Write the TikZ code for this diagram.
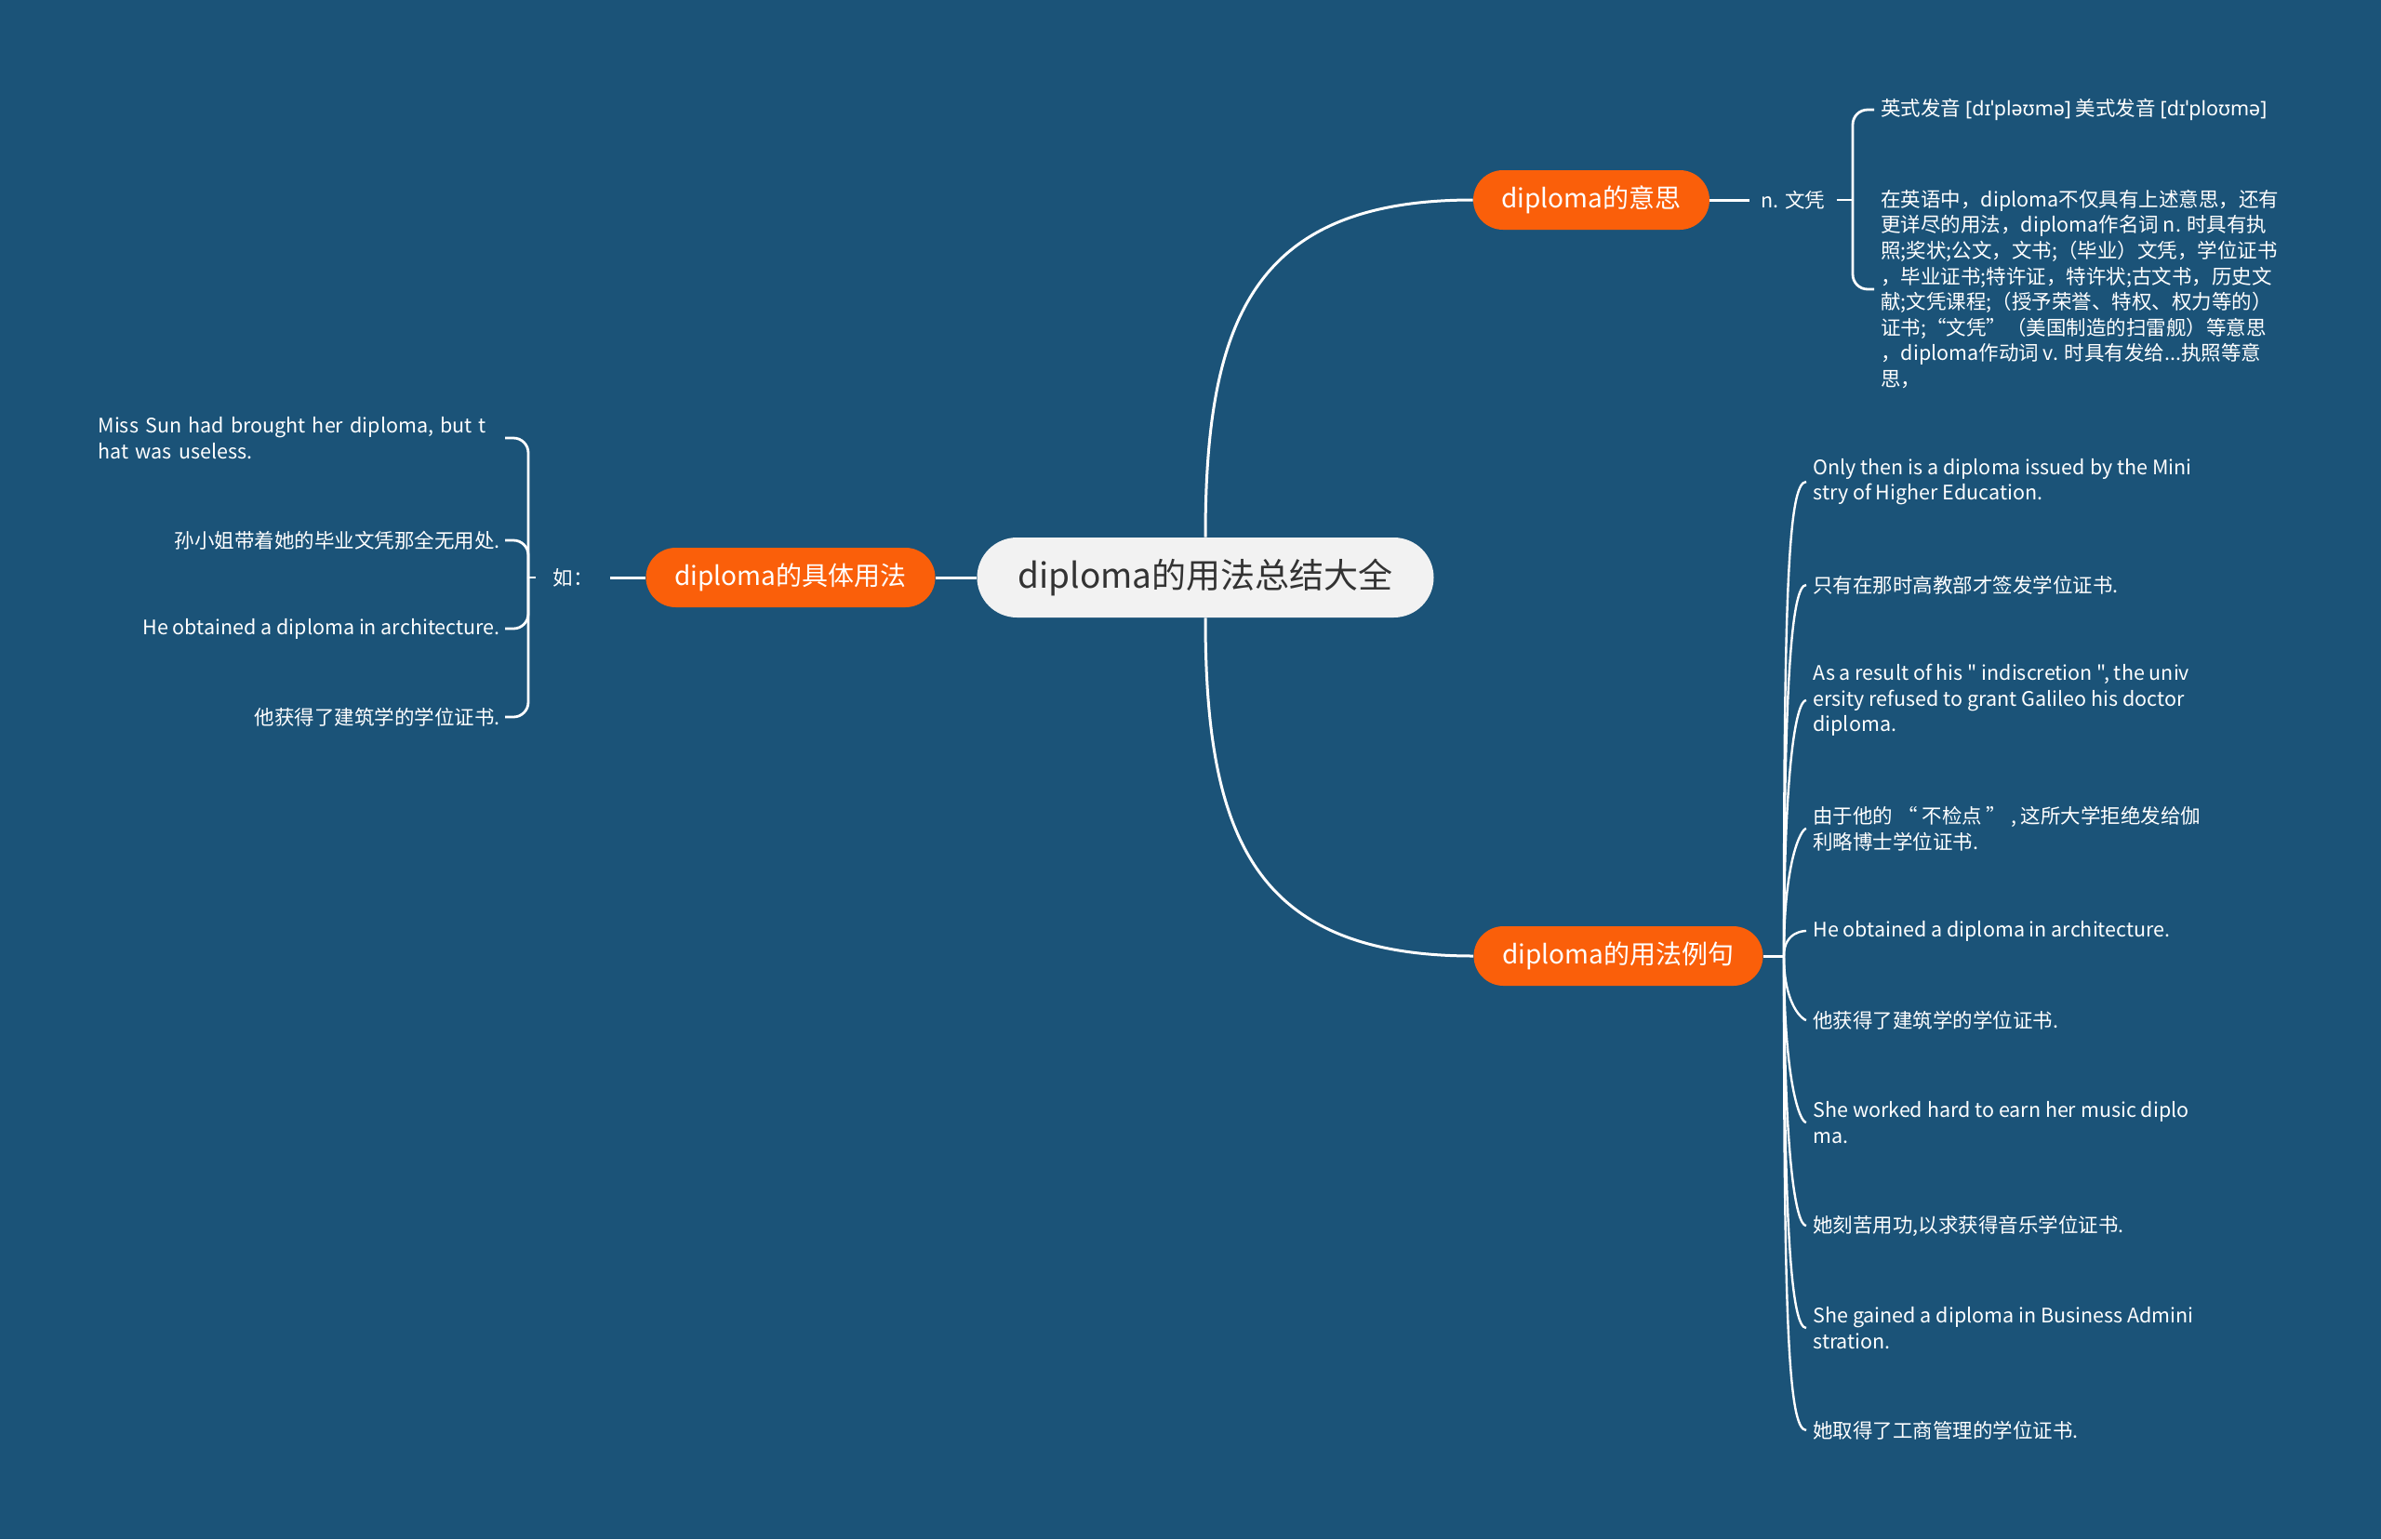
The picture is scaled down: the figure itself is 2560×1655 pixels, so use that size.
\documentclass[tikz,border=0pt]{standalone}
\usepackage{fontspec}
\setmainfont{Noto Sans CJK SC}[Ligatures=TeXOff]
\newfontfamily\ipafont{Noto Sans}
\usepackage{tikz}
\usetikzlibrary{arrows,arrows.meta}
\definecolor{bgblue}{HTML}{1B5378}
\definecolor{mainorange}{HTML}{FA5F0A}
\definecolor{rootgray}{HTML}{F2F2F2}
\definecolor{rootink}{HTML}{333333}
\tikzstyle{ndroot} = [fill=rootgray, text=rootink, rounded corners=21.5pt, minimum width=245.5pt, minimum height=43pt, inner sep=0pt, font=\fontsize{18.5}{22}\selectfont]
\tikzstyle{ndmain} = [fill=mainorange, text=white, rounded corners=16pt, minimum height=32pt, inner sep=0pt, font=\fontsize{14}{17}\selectfont]
\tikzstyle{ndleaf} = [text=white, inner ysep=0pt, inner xsep=3.5pt, align=left, font=\fontsize{10.75}{13.8}\selectfont]
\tikzstyle{lnk} = [style={draw=white, line width=1.5pt}]
\tikzstyle{slnk} = [style={draw=white, line width=1.2pt}]
\tikzstyle{brc} = [style={draw=white, line width=1.4pt, rounded corners=8pt}]

\begin{document}
\begin{tikzpicture}[x=0.5pt,y=-0.5pt]
        \fill[bgblue] (0,0) rectangle (2560,1655);
        % centre and the three branches
        \node[ndroot] (root) at (1296,621) {diploma的用法总结大全};
        \node[ndmain, minimum width=127pt] (yisi) at (1711,215) {diploma的意思};
        \node[ndmain, minimum width=155.5pt] (liju) at (1740,1028) {diploma的用法例句};
        \node[ndmain, minimum width=155.5pt] (juti) at (850,621) {diploma的具体用法};
        \draw[lnk] (root.north) to[out=90, in=180, looseness=1.3] (yisi.west);
        \draw[lnk] (root.south) to[out=-90, in=180, looseness=1.3] (liju.west);
        \draw[lnk] (root.west) -- (juti.east);

        % meaning
        \node[ndleaf, inner xsep=6pt] (wenping) at (1928,215) {n. 文凭};
        \coordinate (rb) at (1992,215);
        \node[ndleaf, anchor=west] (fayin) at (2015,118) {英式发音 {\ipafont[dɪˈpləʊmə]} 美式发音 {\ipafont[dɪˈploʊmə]}};
        \node[ndleaf, anchor=west] (yiyi) at (2015,311) {在英语中，diploma不仅具有上述意思，还有\\更详尽的用法，diploma作名词 n. 时具有执\\照;奖状;公文，文书;（毕业）文凭，学位证书\\，毕业证书;特许证，特许状;古文书，历史文\\献;文凭课程;（授予荣誉、特权、权力等的）\\证书;“文凭”（美国制造的扫雷舰）等意思\\，diploma作动词 v. 时具有发给...执照等意\\思，};
        \draw[lnk] (yisi.east) -- (wenping.west);
        \draw[brc] (wenping.east) -- (rb);
        \draw[brc] (rb) |- (fayin.west);
        \draw[brc] (rb) |- (yiyi.west);

        % usage
        \node[ndleaf, inner xsep=9pt] (ru) at (616,621) {如：};
        \coordinate (lb) at (568,621);
        \node[ndleaf, anchor=east, text width=216pt, inner xsep=2.5pt] (us1) at (543,471) {Miss Sun had brought her diploma, but t\\hat was useless.};
        \node[ndleaf, anchor=east, inner xsep=2.5pt] (us2) at (543,581) {孙小姐带着她的毕业文凭那全无用处.};
        \node[ndleaf, anchor=east, inner xsep=2.5pt] (us3) at (543,676) {He obtained a diploma in architecture.};
        \node[ndleaf, anchor=east, inner xsep=2.5pt] (us4) at (543,771) {他获得了建筑学的学位证书.};
        \draw[lnk] (juti.west) -- (ru.east);
        \draw[brc] (ru.west) -- (lb);
        \foreach \nm in {us1,us2,us3,us4}
          \draw[brc] (lb) |- (\nm.east);

        % example sentences
        \coordinate (lr) at (1918,1028);
        \node[ndleaf, anchor=west] (ex1) at (1942,518) {Only then is a diploma issued by the Mini\\stry of Higher Education.};
        \node[ndleaf, anchor=west] (ex2) at (1942,629) {只有在那时高教部才签发学位证书.};
        \node[ndleaf, anchor=west] (ex3) at (1942,753) {As a result of his " indiscretion ", the univ\\ersity refused to grant Galileo his doctor\\diploma.};
        \node[ndleaf, anchor=west] (ex4) at (1942,891) {由于他的 “ 不检点 ” , 这所大学拒绝发给伽\\利略博士学位证书.};
        \node[ndleaf, anchor=west] (ex5) at (1942,1001) {He obtained a diploma in architecture.};
        \node[ndleaf, anchor=west] (ex6) at (1942,1097) {他获得了建筑学的学位证书.};
        \node[ndleaf, anchor=west] (ex7) at (1942,1207) {She worked hard to earn her music diplo\\ma.};
        \node[ndleaf, anchor=west] (ex8) at (1942,1318) {她刻苦用功,以求获得音乐学位证书.};
        \node[ndleaf, anchor=west] (ex9) at (1942,1428) {She gained a diploma in Business Admini\\stration.};
        \node[ndleaf, anchor=west] (ex10) at (1942,1538) {她取得了工商管理的学位证书.};
        \draw[lnk] (liju.east) -- (lr);
        \foreach \nm/\ang in {ex1/90,ex2/90,ex3/90,ex4/90,ex5/90,ex6/-90,ex7/-90,ex8/-90,ex9/-90,ex10/-90}
          \draw[slnk] (lr) to[out=\ang, in=180, out looseness=1.9, in looseness=0.1] (\nm.west);
      \end{tikzpicture}
\end{document}
